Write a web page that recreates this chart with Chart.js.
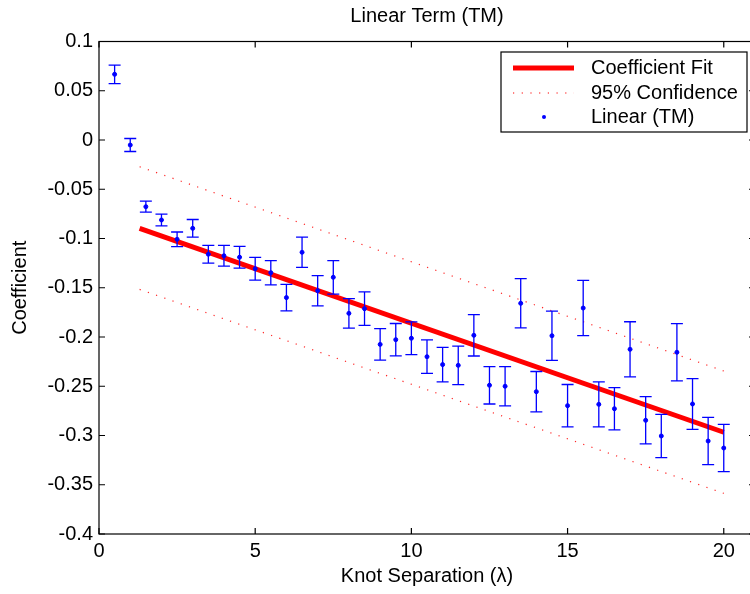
<!DOCTYPE html>
<html>
<head>
<meta charset="utf-8">
<script src="https://cdn.jsdelivr.net/npm/chart.js@4.4.1/dist/chart.umd.min.js"></script>
<style>
  html, body { margin: 0; padding: 0; background: #fff; overflow: hidden; }
  #wrap { width: 760px; height: 594px; }
</style>
</head>
<body>
<div id="wrap"><canvas id="chart" width="760" height="594"></canvas></div>
<script>
// knot separation (lambda) and fitted linear coefficient (TM)
const knotSep = [0.5, 1, 1.5, 2, 2.5, 3, 3.5, 4, 4.5, 5,
                 5.5, 6, 6.5, 7, 7.5, 8, 8.5, 9, 9.5, 10,
                 10.5, 11, 11.5, 12, 12.5, 13, 13.5, 14, 14.5, 15,
                 15.5, 16, 16.5, 17, 17.5, 18, 18.5, 19, 19.5, 20];
const coefTM = [0.0667, -0.0051, -0.0677, -0.0812, -0.1008, -0.0897, -0.116, -0.1175, -0.119, -0.1307,
                -0.1347, -0.160, -0.114, -0.153, -0.1394, -0.176, -0.1712, -0.2075, -0.2027, -0.2013,
                -0.220, -0.228, -0.2288, -0.1983, -0.249, -0.250, -0.1658, -0.2555, -0.1987, -0.2697,
                -0.1706, -0.2684, -0.2728, -0.2125, -0.2846, -0.3005, -0.2155, -0.268, -0.3056, -0.3127];
const coefErr = [0.0094, 0.0066, 0.0056, 0.006, 0.0074, 0.009, 0.009, 0.0105, 0.011, 0.0115,
                 0.0123, 0.0135, 0.0153, 0.0154, 0.017, 0.015, 0.017, 0.016, 0.0164, 0.0166,
                 0.017, 0.0175, 0.0195, 0.021, 0.019, 0.02, 0.025, 0.0205, 0.025, 0.0215,
                 0.028, 0.0228, 0.0215, 0.028, 0.024, 0.022, 0.029, 0.0257, 0.024, 0.024];

// fit line and 95% band (end points)
const fitX = [1.3, 20];
const fitY = [-0.0897, -0.2967];
const confUpper = [-0.0271, -0.2345];
const confLower = [-0.1517, -0.3587];

const xTicks = [0, 5, 10, 15, 20];
const yTicks = [0.1, 0.05, 0, -0.05, -0.1, -0.15, -0.2, -0.25, -0.3, -0.35, -0.4];
const yTickLabels = ["0.1", "0.05", "0", "-0.05", "-0.1", "-0.15", "-0.2", "-0.25", "-0.3", "-0.35", "-0.4"];

const FONT = "'Liberation Sans', Arial, Helvetica, sans-serif";
const BLUE = "#0000ff";
const RED = "#ff0000";

const pts = (xs, ys) => xs.map((x, i) => ({ x: x, y: ys[i] }));

// error bars, drawn right after the fit line so the markers stay on top
const errorBars = {
  id: "errorBars",
  afterDatasetDraw(chart, args) {
    if (args.index !== 0) return;
    const { ctx, scales: { x, y } } = chart;
    ctx.save();
    ctx.strokeStyle = BLUE;
    ctx.lineWidth = 1.3;
    knotSep.forEach((k, i) => {
      const px = x.getPixelForValue(k);
      const top = y.getPixelForValue(coefTM[i] + coefErr[i]);
      const bot = y.getPixelForValue(coefTM[i] - coefErr[i]);
      ctx.beginPath();
      ctx.moveTo(px, top); ctx.lineTo(px, bot);
      ctx.moveTo(px - 6, top); ctx.lineTo(px + 6, top);
      ctx.moveTo(px - 6, bot); ctx.lineTo(px + 6, bot);
      ctx.stroke();
    });
    ctx.restore();
  }
};

// box, inward ticks, title and legend
const matlabFrame = {
  id: "matlabFrame",
  afterDraw(chart) {
    const { ctx, chartArea: a, scales: { x, y } } = chart;
    ctx.save();
    ctx.strokeStyle = "#000";
    ctx.lineWidth = 1.2;
    ctx.strokeRect(a.left, a.top, a.right - a.left, a.bottom - a.top);
    ctx.beginPath();
    xTicks.forEach(v => {
      const px = x.getPixelForValue(v);
      ctx.moveTo(px, a.bottom); ctx.lineTo(px, a.bottom - 6);
      ctx.moveTo(px, a.top); ctx.lineTo(px, a.top + 6);
    });
    yTicks.forEach(v => {
      const py = y.getPixelForValue(v);
      ctx.moveTo(a.left, py); ctx.lineTo(a.left + 6, py);
      ctx.moveTo(a.right, py); ctx.lineTo(a.right - 6, py);
    });
    ctx.stroke();

    ctx.fillStyle = "#000";
    ctx.font = "20px " + FONT;
    ctx.textAlign = "center";
    ctx.textBaseline = "middle";
    ctx.fillText("Linear Term (TM)", (a.left + a.right) / 2, 16);

    // legend
    const lx = 501, ly = 52, lw = 246, lh = 80;
    ctx.fillStyle = "#fff";
    ctx.fillRect(lx, ly, lw, lh);
    ctx.lineWidth = 1.2;
    ctx.strokeStyle = "#000";
    ctx.strokeRect(lx, ly, lw, lh);
    const rows = [ly + 16, ly + 41, ly + 65];
    ctx.strokeStyle = RED;
    ctx.lineWidth = 5;
    ctx.beginPath(); ctx.moveTo(513, rows[0]); ctx.lineTo(574, rows[0]); ctx.stroke();
    ctx.lineWidth = 1.2;
    ctx.setLineDash([1.2, 7.5]);
    ctx.beginPath(); ctx.moveTo(513, rows[1]); ctx.lineTo(574, rows[1]); ctx.stroke();
    ctx.setLineDash([]);
    ctx.fillStyle = BLUE;
    ctx.beginPath(); ctx.arc(544, rows[2], 2, 0, Math.PI * 2); ctx.fill();
    ctx.fillStyle = "#000";
    ctx.textAlign = "left";
    ctx.fillText("Coefficient Fit", 591, rows[0]);
    ctx.fillText("95% Confidence", 591, rows[1]);
    ctx.fillText("Linear (TM)", 591, rows[2]);
    ctx.restore();
  }
};

new Chart(document.getElementById("chart"), {
  type: "scatter",
  data: {
    datasets: [
      {
        label: "Coefficient Fit",
        type: "line",
        data: pts(fitX, fitY),
        borderColor: RED,
        borderWidth: 5,
        pointRadius: 0,
        order: 1
      },
      {
        label: "95% Confidence",
        type: "line",
        data: pts(fitX, confUpper),
        borderColor: "rgba(255,0,0,0.85)",
        borderWidth: 1.2,
        borderDash: [1.2, 7.5],
        pointRadius: 0,
        order: 2
      },
      {
        label: "95% Confidence",
        type: "line",
        data: pts(fitX, confLower),
        borderColor: "rgba(255,0,0,0.85)",
        borderWidth: 1.2,
        borderDash: [1.2, 7.5],
        pointRadius: 0,
        order: 2
      },
      {
        label: "Linear (TM)",
        data: pts(knotSep, coefTM),
        backgroundColor: BLUE,
        borderColor: BLUE,
        pointRadius: 2,
        order: 0
      }
    ]
  },
  options: {
    responsive: false,
    animation: false,
    layout: { padding: { top: 41.5, right: 4.75, left: 0, bottom: 0 } },
    plugins: {
      legend: { display: false },
      title: { display: false },
      tooltip: { enabled: false }
    },
    scales: {
      x: {
        type: "linear",
        min: 0,
        max: 21,
        afterBuildTicks: s => { s.ticks = xTicks.map(v => ({ value: v })); },
        afterFit: s => { s.height = 60; },
        grid: { display: false, drawTicks: false },
        border: { display: false },
        ticks: { color: "#000", font: { family: FONT, size: 20 }, padding: 5, maxRotation: 0, autoSkip: false },
        title: { display: true, text: "Knot Separation (\u03bb)", color: "#000", font: { family: FONT, size: 20 }, padding: { bottom: 6 } }
      },
      y: {
        min: -0.4,
        max: 0.1,
        afterBuildTicks: s => { s.ticks = yTicks.map(v => ({ value: v })); },
        afterFit: s => { s.width = 99; },
        grid: { display: false, drawTicks: false },
        border: { display: false },
        ticks: {
          color: "#000",
          font: { family: FONT, size: 20 },
          padding: 6,
          autoSkip: false,
          callback: (v, i) => yTickLabels[i]
        },
        title: { display: true, text: "Coefficient", color: "#000", font: { family: FONT, size: 20 }, padding: { top: 8 } }
      }
    }
  },
  plugins: [errorBars, matlabFrame]
});
</script>
</body>
</html>
